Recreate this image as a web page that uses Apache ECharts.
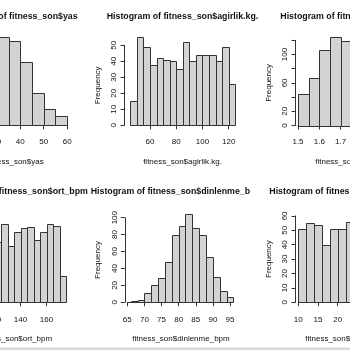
<!DOCTYPE html>
<html>
<head>
<meta charset="utf-8">
<script src="https://cdn.jsdelivr.net/npm/echarts@6/dist/echarts.min.js"></script>
<style>
  html, body { margin: 0; padding: 0; background: #fff; }
  #chart { width: 350px; height: 350px; }
</style>
</head>
<body>
<div id="chart"></div>
<script>
// histogram data: bin start edges + counts (bins of equal width)
const yasBins = [30, 35, 40, 45, 50, 55];
const yasCounts = [105, 101, 76, 39, 19, 11];

const agirlikBins = [45, 50, 55, 60, 65, 70, 75, 80, 85, 90, 95, 100, 105, 110, 115, 120];
const agirlikCounts = [15, 55, 49, 38, 42, 41, 40, 35, 52, 40, 44, 44, 44, 40, 49, 26];

const boyBins = [1.5, 1.55, 1.6, 1.65, 1.7];
const boyCounts = [45, 67, 107, 125, 119];

const ortBins = [120, 125, 130, 135, 140, 145, 150, 155, 160, 165, 170];
const ortCounts = [50, 65, 47, 59, 62, 63, 52, 59, 65, 64, 22];

const dinlenmeBins = [66, 68, 70, 72, 74, 76, 78, 80, 82, 84, 86, 88, 90, 92, 94];
const dinlenmeCounts = [2, 3, 11, 20, 29, 48, 80, 90, 104, 88, 80, 53, 30, 13, 6];

const yagBins = [10, 12, 14, 16, 18, 20, 22];
const yagCounts = [51, 55, 54, 40, 51, 51, 56];

const panels = [
  { title: 'Histogram of fitness_son$yas', xlab: 'fitness_son$yas', bins: yasBins, counts: yasCounts, bw: 5,
    xMin: 20, xMax: 60, xInt: 10, left: -26.6, width: 93.8, yMax: 100, yInt: 20, top: 41.5, height: 83.8,
    xOff: 3.4, yOff: 16, center: 15, row: 0 },
  { title: 'Histogram of fitness_son$agirlik.kg.', xlab: 'fitness_son$agirlik.kg.', bins: agirlikBins, counts: agirlikCounts, bw: 5,
    xMin: 60, xMax: 120, xInt: 20, left: 150, width: 78.7, yMax: 50, yInt: 10, top: 45.3, height: 80,
    xOff: 3.4, yOff: 25.5, center: 182.5, row: 0 },
  { title: 'Histogram of fitness_son$boy.m.', xlab: 'fitness_son$boy.m.', bins: boyBins, counts: boyCounts, bw: 0.05,
    xMin: 1.5, xMax: 1.9, xInt: 0.1, left: 298, width: 85.2, yMax: 120, yInt: 20, top: 40.3, height: 85.2,
    xOff: 3.4, yOff: 2.5, center: 349.4, row: 0, skipY: [40, 80, 120] },
  { title: 'Histogram of fitness_son$ort_bpm', xlab: 'fitness_son$ort_bpm', bins: ortBins, counts: ortCounts, bw: 5,
    xMin: 100, xMax: 160, xInt: 20, left: -31.5, width: 78, yMax: 60, yInt: 20, top: 230.3, height: 72,
    xOff: 4.4, yOff: 10, center: 15, row: 1 },
  { title: 'Histogram of fitness_son$dinlenme_bpm', xlab: 'fitness_son$dinlenme_bpm', bins: dinlenmeBins, counts: dinlenmeCounts, bw: 2,
    xMin: 65, xMax: 95, xInt: 5, left: 127.3, width: 102.7, yMax: 100, yInt: 20, top: 217.7, height: 84.6,
    xOff: 4.4, yOff: 2.5, center: 181, row: 1, titleLeft: 90.7, titleW: 167 },
  { title: 'Histogram of fitness_son$yag_orani', xlab: 'fitness_son$yag_orani', bins: yagBins, counts: yagCounts, bw: 2,
    xMin: 10, xMax: 60, xInt: 5, left: 298.3, width: 197, yMax: 60, yInt: 10, top: 215.9, height: 86.4,
    xOff: 4.4, yOff: 2.8, center: 345.3, row: 1 }
];

const rowTitleY = [17, 192];
const rowXlabY = [161.7, 338.3];
const lineCol = '#333';
const txtCol = '#111';
const fontFam = 'Arial, "Liberation Sans", sans-serif';
const axFont = 8;

const grids = [], xAxes = [], yAxes = [], series = [], graphics = [];

panels.forEach(function (p, i) {
  grids.push({ left: p.left, top: p.top, width: p.width, height: p.height,
    containLabel: false, outerBoundsMode: 'none' });
  xAxes.push({
    gridIndex: i, type: 'value', min: p.xMin, max: p.xMax, interval: p.xInt, offset: p.xOff,
    axisLine: { show: true, lineStyle: { color: lineCol, width: 1 } },
    axisTick: { show: true, length: 4, lineStyle: { color: lineCol } },
    axisLabel: { show: true, margin: 9, color: txtCol, fontSize: axFont, fontFamily: fontFam,
      showMinLabel: true, showMaxLabel: true, hideOverlap: false },
    splitLine: { show: false }
  });
  yAxes.push({
    gridIndex: i, type: 'value', min: 0, max: p.yMax, interval: p.yInt, offset: p.yOff,
    name: 'Frequency', nameLocation: 'middle', nameGap: 23,
    nameTextStyle: { color: txtCol, fontSize: axFont, fontFamily: fontFam },
    axisLine: { show: true, lineStyle: { color: lineCol, width: 1 } },
    axisTick: { show: true, length: 4, lineStyle: { color: lineCol } },
    axisLabel: { show: true, rotate: 90, margin: 6.5, color: txtCol, fontSize: axFont, fontFamily: fontFam,
      showMinLabel: true, showMaxLabel: true,
      formatter: function (v) { return (p.skipY && p.skipY.indexOf(v) >= 0) ? '' : String(v); } },
    splitLine: { show: false }
  });
  const data = p.bins.map(function (b, k) { return [b, b + p.bw, p.counts[k]]; });
  series.push({
    type: 'custom', xAxisIndex: i, yAxisIndex: i, clip: false, silent: true,
    encode: { x: [0, 1], y: 2 },
    data: data,
    renderItem: function (params, api) {
      const a = api.coord([api.value(0), 0]);
      const b = api.coord([api.value(1), api.value(2)]);
      return {
        type: 'rect',
        shape: { x: Math.round(a[0]) + 0.5, y: Math.round(b[1]) + 0.5,
                 width: Math.round(b[0]) - Math.round(a[0]), height: Math.round(a[1]) - Math.round(b[1]) },
        style: { fill: '#d3d3d3', stroke: lineCol, lineWidth: 1 }
      };
    }
  });
  const tStyle = { text: p.title, font: 'bold 8.8px ' + fontFam, fill: txtCol,
    textAlign: 'center', textVerticalAlign: 'middle' };
  let tx = p.center;
  if (p.titleLeft !== undefined) {
    tStyle.textAlign = 'left';
    tStyle.width = p.titleW;
    tStyle.overflow = 'truncate';
    tStyle.ellipsis = '';
    tx = p.titleLeft;
  }
  graphics.push({ type: 'text', x: tx, y: rowTitleY[p.row], style: tStyle, silent: true });
  graphics.push({ type: 'text', x: p.center, y: rowXlabY[p.row], silent: true,
    style: { text: p.xlab, font: axFont + 'px ' + fontFam, fill: txtCol, textAlign: 'center', textVerticalAlign: 'middle' } });
});

graphics.push({ type: 'rect', left: 0, bottom: 0, shape: { width: 350, height: 2.5 }, style: { fill: '#d9d9d9' }, silent: true });

const chart = echarts.init(document.getElementById('chart'), null, { renderer: 'canvas' });
chart.setOption({
  animation: false,
  backgroundColor: '#fff',
  grid: grids,
  xAxis: xAxes,
  yAxis: yAxes,
  series: series,
  graphic: graphics
});
</script>
</body>
</html>
